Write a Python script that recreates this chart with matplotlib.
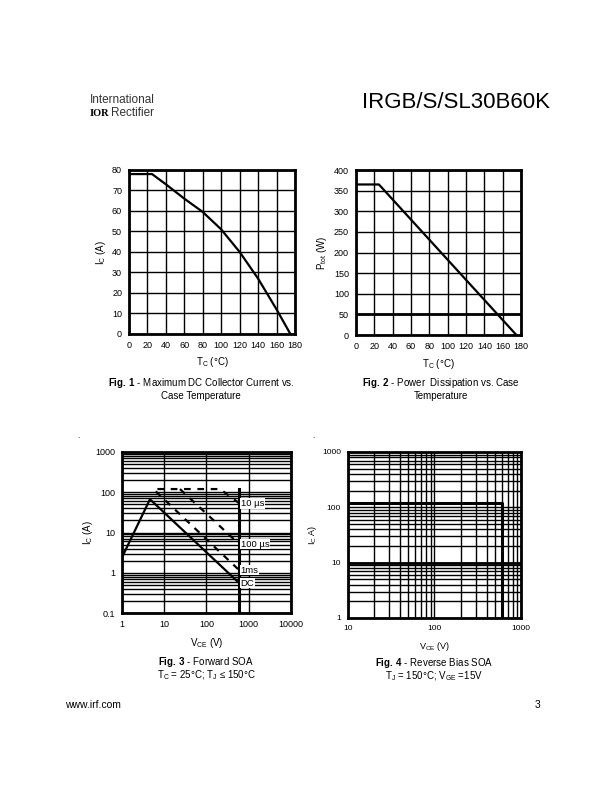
import numpy as np
import matplotlib
matplotlib.use("Agg")
import matplotlib.pyplot as plt
from matplotlib.ticker import LogLocator, NullFormatter

plt.rcParams['font.family'] = ['Liberation Sans', 'DejaVu Sans']
plt.rcParams['mathtext.fontset'] = 'custom'
plt.rcParams['mathtext.rm'] = 'Liberation Sans'
plt.rcParams['mathtext.bf'] = 'Liberation Sans:bold'

# Fig 1 - max DC collector current vs case temperature
tc1 = [0, 25, 40, 60, 80, 100, 120, 140, 160, 175]
ic1 = [78, 78, 73, 66, 59.5, 51, 40, 27, 12, 0]

# Fig 2 - power dissipation vs case temperature
tc2 = [0, 25, 175]
ptot = [365, 365, 0]

# Fig 3 - forward SOA
dc_v = [1, 4.6, 600]
dc_i = [2.4, 67, 0.55]
us10_v = [6.9, 210, 600]
us10_i = [120, 120, 53]
us100_v = [23.6, 600]
us100_i = [120, 5.1]
ms1_v = [6.3, 600]
ms1_i = [105, 1.15]
limit_v = [600, 600]
limit_i = [0.1, 120]
soa_labels = ["10 µs", "100 µs", "1ms", "DC"]
soa_label_i = [53, 5.1, 1.15, 0.55]

# Fig 4 - reverse bias SOA
rb_v = [10, 600, 600]
rb_i = [120, 120, 1]

fig = plt.figure(figsize=(6.12, 7.92), dpi=100)

tick_fs = 6.5
lab_fs = 7


def frame(ax):
    for s in ax.spines.values():
        s.set_linewidth(2.0)
    ax.tick_params(length=0, labelsize=tick_fs, pad=5)


# ---- Fig 1
ax1 = fig.add_axes([0.2108, 0.5783, 0.2712, 0.2071])
ax1.plot(tc1, ic1, color='black', lw=1.6)
ax1.set_xlim(0, 180)
ax1.set_ylim(0, 80)
ax1.set_xticks(np.arange(0, 181, 20))
ax1.set_yticks(np.arange(0, 81, 10))
ax1.grid(True, color='black', lw=1.0)
frame(ax1)
ax1.set_xlabel(r'T$_\mathregular{C}$ (°C)', fontsize=lab_fs, labelpad=4)
ax1.set_ylabel(r'I$_\mathregular{C}$ (A)', fontsize=lab_fs, labelpad=3)

# ---- Fig 2
ax2 = fig.add_axes([0.5817, 0.577, 0.2696, 0.2083])
ax2.plot(tc2, ptot, color='black', lw=1.6)
ax2.axhline(50, color='black', lw=2.0)
ax2.set_xlim(0, 180)
ax2.set_ylim(0, 400)
ax2.set_xticks(np.arange(0, 181, 20))
ax2.set_yticks(np.arange(0, 401, 50))
ax2.grid(True, color='black', lw=1.0)
frame(ax2)
ax2.set_xlabel(r'T$_\mathregular{C}$ (°C)', fontsize=lab_fs, labelpad=4)
ax2.set_ylabel(r'P$_\mathregular{tot}$ (W)', fontsize=lab_fs, labelpad=4)

# ---- Fig 3
ax3 = fig.add_axes([0.1993, 0.226, 0.2761, 0.2033])
ax3.set_xscale('log')
ax3.set_yscale('log')
ax3.set_xlim(1, 10000)
ax3.set_ylim(0.1, 1000)
ax3.set_xticks([1, 10, 100, 1000, 10000])
ax3.set_xticklabels(['1', '10', '100', '1000', '10000'])
ax3.set_yticks([0.1, 1, 10, 100, 1000])
ax3.set_yticklabels(['0.1', '1', '10', '100', '1000'])
ax3.yaxis.set_minor_locator(LogLocator(base=10, subs=np.arange(2, 10)))
ax3.yaxis.set_minor_formatter(NullFormatter())
ax3.xaxis.set_minor_locator(plt.NullLocator())
ax3.grid(True, which='major', color='black', lw=1.0)
ax3.grid(True, which='minor', axis='y', color='black', lw=1.0)
ax3.tick_params(which='minor', length=0)
ax3.plot(dc_v, dc_i, color='black', lw=1.6)
ax3.plot(us10_v, us10_i, color='black', lw=1.6, ls=(0, (3, 3)))
ax3.plot(us100_v, us100_i, color='black', lw=1.6, ls=(0, (3, 3)))
ax3.plot(ms1_v, ms1_i, color='black', lw=1.6, ls=(0, (3, 3)))
ax3.plot(limit_v, limit_i, color='black', lw=2.2)
for lab, yv in zip(soa_labels, soa_label_i):
    ax3.text(640, yv, lab, fontsize=6.8, va='center', ha='left',
             bbox=dict(facecolor='white', edgecolor='none', pad=0.5))
frame(ax3)
ax3.set_xlabel(r'V$_\mathregular{CE}$ (V)', fontsize=lab_fs, labelpad=5)
ax3.set_ylabel(r'I$_\mathregular{C}$ (A)', fontsize=lab_fs, labelpad=0)

# ---- Fig 4
ax4 = fig.add_axes([0.5686, 0.2197, 0.2827, 0.2096])
ax4.set_xscale('log')
ax4.set_yscale('log')
ax4.set_xlim(10, 1000)
ax4.set_ylim(1, 1000)
ax4.set_xticks([10, 100, 1000])
ax4.set_xticklabels(['10', '100', '1000'])
ax4.set_yticks([1, 10, 100, 1000])
ax4.set_yticklabels(['1', '10', '100', '1000'])
for axis in (ax4.xaxis, ax4.yaxis):
    axis.set_minor_locator(LogLocator(base=10, subs=np.arange(2, 10)))
    axis.set_minor_formatter(NullFormatter())
ax4.grid(True, which='both', color='black', lw=1.0)
ax4.tick_params(which='minor', length=0)
ax4.axhline(10, color='black', lw=2.0)
ax4.plot(rb_v, rb_i, color='black', lw=2.2)
frame(ax4)
ax4.tick_params(labelsize=6)
ax4.set_xlabel(r'V$_\mathregular{CE}$ (V)', fontsize=6.5, labelpad=6)
ax4.set_ylabel(r'I$_\mathregular{C}$ A)', fontsize=6.5, labelpad=2)

# ---- page text
fig.text(90 / 612, 1 - 100 / 792, 'International', fontsize=8.5, color='#333333',
         va='center', ha='left', fontweight='light')
fig.text(90 / 612, 1 - 113 / 792, 'IOR', fontsize=7.5, fontweight='bold',
         va='center', ha='left', family='Liberation Serif')
fig.text(111 / 612, 1 - 113 / 792, 'Rectifier', fontsize=8.5, color='#333333',
         va='center', ha='left')
fig.text(550 / 612, 1 - 103 / 792, 'IRGB/S/SL30B60K', fontsize=16,
         va='center', ha='right')

cap_fs = 7
fig.text(201 / 612, 1 - 383 / 792, r'$\mathbf{Fig.\,1}$ - Maximum DC Collector Current vs.',
         fontsize=cap_fs, ha='center', va='center')
fig.text(201 / 612, 1 - 396 / 792, 'Case Temperature', fontsize=cap_fs,
         ha='center', va='center')
fig.text(441 / 612, 1 - 383 / 792, r'$\mathbf{Fig.\,2}$ - Power  Dissipation vs. Case',
         fontsize=cap_fs, ha='center', va='center')
fig.text(441 / 612, 1 - 396 / 792, 'Temperature', fontsize=cap_fs,
         ha='center', va='center')
fig.text(206 / 612, 1 - 662 / 792, r'$\mathbf{Fig.\,3}$ - Forward SOA',
         fontsize=cap_fs, ha='center', va='center')
fig.text(206 / 612, 1 - 675 / 792, r'T$_\mathregular{C}$ = 25°C; T$_\mathregular{J}$ ≤ 150°C',
         fontsize=cap_fs, ha='center', va='center')
fig.text(434 / 612, 1 - 663 / 792, r'$\mathbf{Fig.\,4}$ - Reverse Bias SOA',
         fontsize=cap_fs, ha='center', va='center')
fig.text(434 / 612, 1 - 676 / 792, r'T$_\mathregular{J}$ = 150°C; V$_\mathregular{GE}$ =15V',
         fontsize=cap_fs, ha='center', va='center')

fig.text(65 / 612, 1 - 705 / 792, 'www.irf.com', fontsize=7.5, ha='left', va='center')
fig.text(540 / 612, 1 - 705 / 792, '3', fontsize=7.5, ha='right', va='center')
fig.text(78 / 612, 1 - 436 / 792, '.', fontsize=6, ha='center', va='center')
fig.text(313 / 612, 1 - 436 / 792, '.', fontsize=6, ha='center', va='center')

fig.savefig('out.png', dpi=100)
